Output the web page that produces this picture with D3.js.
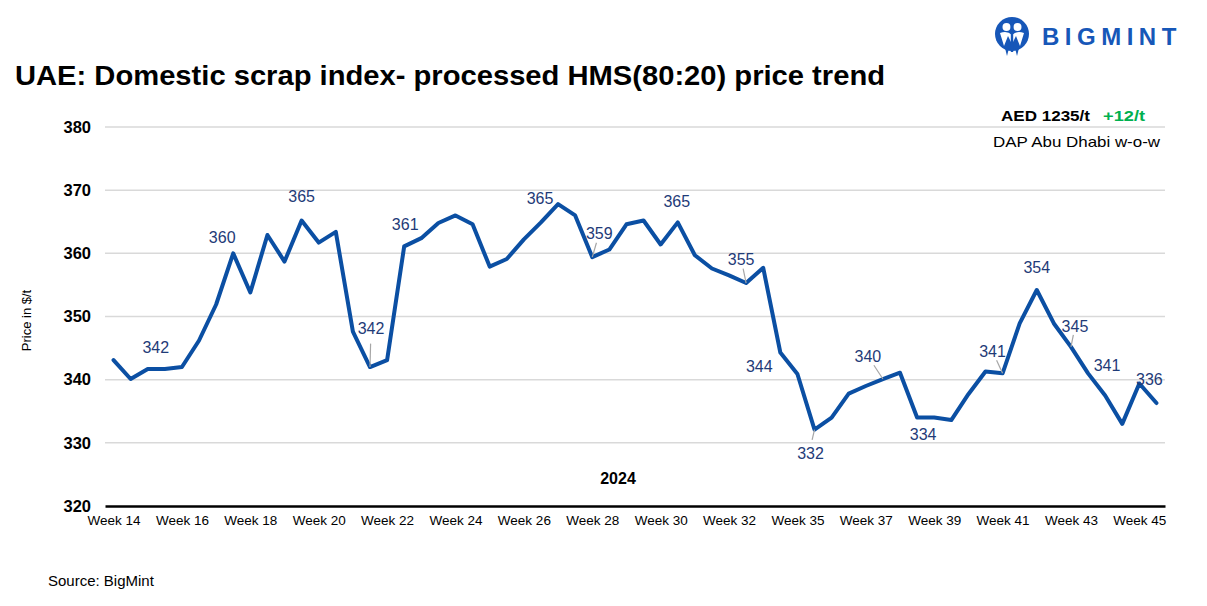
<!DOCTYPE html>
<html>
<head>
<meta charset="utf-8">
<script src="https://cdn.jsdelivr.net/npm/d3@7"></script>
<style>
  body { margin: 0; background: #fff; }
  svg { display: block; font-family: "Liberation Sans", Arial, sans-serif; }
</style>
</head>
<body>
<svg id="chart"></svg>
<script>
// weekly index, two readings per week (week 34 missing)
const prices = [
  343.1, 340.1, 341.7, 341.7, 342.0, 346.2, 351.9, 360.0, 353.8, 362.9,
  358.7, 365.2, 361.7, 363.4, 347.6, 342.0, 343.1, 361.1, 362.4, 364.8,
  366.0, 364.6, 357.9, 359.1, 362.2, 364.9, 367.8, 366.0, 359.4, 360.6,
  364.6, 365.2, 361.4, 364.9, 359.7, 357.6, 356.5, 355.3, 357.7, 344.3,
  340.9, 332.1, 334.0, 337.8, 339.0, 340.1, 341.1, 334.0, 334.0, 333.6,
  337.7, 341.3, 341.0, 348.9, 354.2, 348.9, 345.2, 341.0, 337.5, 333.0,
  339.4, 336.3
];
const weekLabels = [
  "Week 14", "Week 16", "Week 18", "Week 20", "Week 22", "Week 24", "Week 26", "Week 28",
  "Week 30", "Week 32", "Week 35", "Week 37", "Week 39", "Week 41", "Week 43", "Week 45"
];
const yTicks = [320, 330, 340, 350, 360, 370, 380];

// data labels: point index, text, label offset, leader line?
const labels = [
  { i: 2,  text: "342", dx: 8,   dy: -22, lead: false },
  { i: 7,  text: "360", dx: -11, dy: -16, lead: false },
  { i: 11, text: "365", dx: 0,   dy: -24, lead: false },
  { i: 15, text: "342", dx: 1,   dy: -39, lead: true },
  { i: 17, text: "361", dx: 1,   dy: -22, lead: false },
  { i: 26, text: "365", dx: -18, dy: -6,  lead: false },
  { i: 28, text: "359", dx: 7,   dy: -24, lead: true },
  { i: 33, text: "365", dx: -1,  dy: -21, lead: false },
  { i: 37, text: "355", dx: -5,  dy: -24, lead: true },
  { i: 39, text: "344", dx: -21, dy: 14,  lead: false },
  { i: 41, text: "332", dx: -4,  dy: 24,  lead: true },
  { i: 45, text: "340", dx: -15, dy: -23, lead: true },
  { i: 47, text: "334", dx: 6,   dy: 17,  lead: false },
  { i: 52, text: "341", dx: -10, dy: -22, lead: true },
  { i: 54, text: "354", dx: 0,   dy: -23, lead: false },
  { i: 56, text: "345", dx: 4,   dy: -20, lead: true },
  { i: 57, text: "341", dx: 19,  dy: -8,  lead: false },
  { i: 60, text: "336", dx: 10,  dy: -4,  lead: false }
];

const width = 1207;
const height = 606;
const margin = { top: 127, right: 42, bottom: 100, left: 105 };

const svg = d3.select("#chart")
  .attr("width", width)
  .attr("height", height)
  .attr("viewBox", [0, 0, width, height]);

const x = d3.scaleLinear()
  .domain([-0.5, prices.length - 0.5])
  .range([margin.left, width - margin.right]);

const y = d3.scaleLinear()
  .domain([320, 380])
  .range([height - margin.bottom, margin.top]);

// gridlines
svg.append("g")
  .selectAll("line")
  .data(yTicks.slice(1))
  .join("line")
  .attr("x1", x.range()[0])
  .attr("x2", x.range()[1])
  .attr("y1", d => y(d))
  .attr("y2", d => y(d))
  .attr("stroke", "#d9d9d9")
  .attr("stroke-width", 1.5);

// Y axis
const yAxis = g => g
  .attr("transform", `translate(${margin.left},0)`)
  .call(d3.axisLeft(y).tickValues(yTicks).tickSize(0).tickPadding(14))
  .call(g => g.select(".domain").remove())
  .call(g => g.selectAll("text")
    .attr("font-family", "Liberation Sans, Arial, sans-serif")
    .attr("font-size", 16.5)
    .attr("font-weight", "bold")
    .attr("fill", "#000"));
svg.append("g").call(yAxis);

// X axis
const xAxis = g => g
  .attr("transform", `translate(0,${y(320)})`)
  .call(d3.axisBottom(x)
    .tickValues(d3.range(0, prices.length, 4))
    .tickFormat((d, i) => weekLabels[i])
    .tickSize(0)
    .tickPadding(9))
  .call(g => g.select(".domain").attr("stroke", "#000").attr("stroke-width", 2.5))
  .call(g => g.selectAll("text")
    .attr("font-family", "Liberation Sans, Arial, sans-serif")
    .attr("font-size", 13.5)
    .attr("fill", "#000"));
svg.append("g").call(xAxis);

// price line
const line = d3.line()
  .x((d, i) => x(i))
  .y(d => y(d));

svg.append("path")
  .datum(prices)
  .attr("fill", "none")
  .attr("stroke", "#0b4fa3")
  .attr("stroke-width", 4)
  .attr("stroke-linejoin", "round")
  .attr("stroke-linecap", "round")
  .attr("d", line);

// leader lines + data labels
const lab = svg.append("g");
lab.selectAll("line")
  .data(labels.filter(d => d.lead))
  .join("line")
  .attr("x1", d => x(d.i))
  .attr("y1", d => y(prices[d.i]))
  .attr("x2", d => x(d.i) + d.dx * 0.6)
  .attr("y2", d => y(prices[d.i]) + d.dy * 0.6 + (d.dy < 0 ? 0 : -4))
  .attr("stroke", "#a6a6a6")
  .attr("stroke-width", 1.2);

lab.selectAll("text")
  .data(labels)
  .join("text")
  .attr("x", d => x(d.i) + d.dx)
  .attr("y", d => y(prices[d.i]) + d.dy)
  .attr("dy", "0.35em")
  .attr("text-anchor", "middle")
  .attr("font-size", 16)
  .attr("fill", "#1f3b78")
  .text(d => d.text);

// axis titles
svg.append("text")
  .attr("transform", `translate(26,${(y(320) + y(380)) / 2 + 4}) rotate(-90)`)
  .attr("text-anchor", "middle")
  .attr("dy", "0.35em")
  .attr("font-size", 13)
  .attr("fill", "#000")
  .text("Price in $/t");

svg.append("text")
  .attr("x", 618)
  .attr("y", 484)
  .attr("text-anchor", "middle")
  .attr("font-size", 16)
  .attr("font-weight", "bold")
  .attr("fill", "#000")
  .text("2024");

// title
svg.append("text")
  .attr("x", 15)
  .attr("y", 85)
  .attr("font-size", 27)
  .attr("font-weight", "bold")
  .attr("fill", "#000")
  .attr("textLength", 870)
  .attr("lengthAdjust", "spacingAndGlyphs")
  .text("UAE: Domestic scrap index- processed HMS(80:20) price trend");

// price box top right
svg.append("text")
  .attr("x", 1001)
  .attr("y", 121)
  .attr("font-size", 15)
  .attr("font-weight", "bold")
  .attr("fill", "#000")
  .attr("textLength", 89)
  .attr("lengthAdjust", "spacingAndGlyphs")
  .text("AED 1235/t");

svg.append("text")
  .attr("x", 1103)
  .attr("y", 121)
  .attr("font-size", 15)
  .attr("font-weight", "bold")
  .attr("fill", "#00b050")
  .attr("textLength", 42)
  .attr("lengthAdjust", "spacingAndGlyphs")
  .text("+12/t");

svg.append("text")
  .attr("x", 993)
  .attr("y", 147)
  .attr("font-size", 15)
  .attr("fill", "#000")
  .attr("textLength", 167)
  .attr("lengthAdjust", "spacingAndGlyphs")
  .text("DAP Abu Dhabi w-o-w");

// source
svg.append("text")
  .attr("x", 48)
  .attr("y", 586)
  .attr("font-size", 15)
  .attr("fill", "#000")
  .text("Source: BigMint");

// logo
const logo = svg.append("g").attr("transform", "translate(1012,34)");
logo.append("circle").attr("r", 17).attr("fill", "#1757b8");
logo.append("circle").attr("cx", -5.5).attr("cy", -7).attr("r", 4).attr("fill", "#fff");
logo.append("circle").attr("cx", 5.5).attr("cy", -7).attr("r", 4).attr("fill", "#fff");
logo.append("path")
  .attr("d", "M-12,-1 Q-5,-4 0,1 Q5,-4 12,-1 L8,12 L4,2 L0,10 L-4,2 L-8,12 Z")
  .attr("fill", "#fff");
logo.append("rect").attr("x", -1.2).attr("y", -12).attr("width", 2.4).attr("height", 30).attr("fill", "#1757b8");
logo.append("path").attr("d", "M-7,14 L-5,22 L-3,14 Z M3,14 L5,22 L7,14 Z").attr("fill", "#1757b8");

svg.append("text")
  .attr("x", 1042)
  .attr("y", 45)
  .attr("font-size", 24)
  .attr("font-weight", "bold")
  .attr("letter-spacing", 5.5)
  .attr("fill", "#1757b8")
  .text("BIGMINT");
</script>
</body>
</html>
